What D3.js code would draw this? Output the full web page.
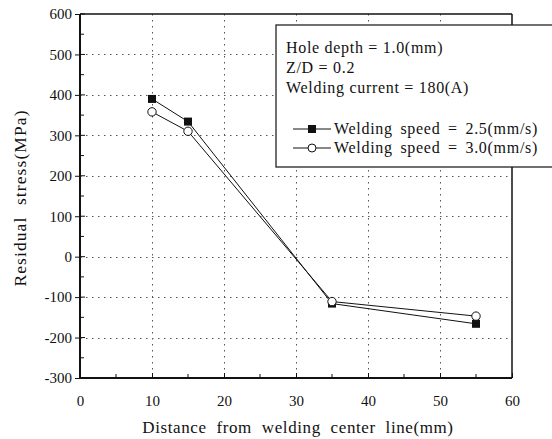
<!DOCTYPE html>
<html>
<head>
<meta charset="utf-8">
<script src="https://cdn.jsdelivr.net/npm/d3@7"></script>
<style>
  body { margin: 0; background: #fff; }
  text { font-family: "Liberation Serif", "DejaVu Serif", serif; fill: #111; }
</style>
</head>
<body>
<div id="chart"></div>
<script>
// datos
const distances = [10, 15, 35, 55];
const speed25 = [390, 334, -116, -166];
const speed30 = [358, 310, -111, -147];
const xTicks = [0, 10, 20, 30, 40, 50, 60];
const yTicks = [-300, -200, -100, 0, 100, 200, 300, 400, 500, 600];
const infoLines = ["Hole depth = 1.0(mm)", "Z/D = 0.2", "Welding current = 180(A)"];
const seriesNames = ["Welding speed = 2.5(mm/s)", "Welding speed = 3.0(mm/s)"];

const W = 552, H = 439;
const margin = { top: 14, right: 40, bottom: 61, left: 80 },
    width = W - margin.left - margin.right,
    height = H - margin.top - margin.bottom;

const svg = d3.select("#chart")
    .append("svg")
    .attr("width", W)
    .attr("height", H);

const g = svg.append("g")
    .attr("transform", `translate(${margin.left},${margin.top})`);

const x = d3.scaleLinear().domain([0, 60]).range([0, width]);
const y = d3.scaleLinear().domain([-300, 600]).range([height, 0]);

// rejilla punteada
g.selectAll(".hgrid")
    .data(yTicks.filter(d => d > -300 && d < 600))
    .enter().append("line")
    .attr("x1", 0).attr("x2", width)
    .attr("y1", d => Math.round(y(d)) + 0.5).attr("y2", d => Math.round(y(d)) + 0.5)
    .attr("stroke", "#555").attr("stroke-width", 1)
    .attr("stroke-dasharray", "1.5,4.5");

g.selectAll(".vgrid")
    .data(xTicks.filter(d => d > 0 && d < 60))
    .enter().append("line")
    .attr("x1", d => Math.round(x(d)) + 0.5).attr("x2", d => Math.round(x(d)) + 0.5)
    .attr("y1", 0).attr("y2", height)
    .attr("stroke", "#555").attr("stroke-width", 1)
    .attr("stroke-dasharray", "1.5,4.5");

// ejes
const yAxis = g.append("g")
    .call(d3.axisLeft(y).tickValues(yTicks).tickFormat(d => String(d)).tickSize(5).tickPadding(3));
const xAxis = g.append("g")
    .attr("transform", `translate(0,${height})`)
    .call(d3.axisBottom(x).tickValues(xTicks).tickFormat(d => String(d)).tickSize(-5).tickPadding(17));

[yAxis, xAxis].forEach(a => {
    a.select(".domain").remove();
    a.attr("font-family", null);
    a.selectAll("text")
        .style("font-family", "'Liberation Serif', serif")
        .style("font-size", "15px")
        .attr("fill", "#111");
    a.selectAll("line").attr("stroke", "#111");
});

// marcas menores hacia dentro
g.selectAll(".ymin")
    .data(d3.range(-250, 600, 100))
    .enter().append("line")
    .attr("x1", 0).attr("x2", 4)
    .attr("y1", d => y(d)).attr("y2", d => y(d))
    .attr("stroke", "#111");
g.selectAll(".ymaj")
    .data(yTicks)
    .enter().append("line")
    .attr("x1", 0).attr("x2", 5)
    .attr("y1", d => y(d)).attr("y2", d => y(d))
    .attr("stroke", "#111");
g.selectAll(".xmin")
    .data(d3.range(5, 60, 10))
    .enter().append("line")
    .attr("x1", d => x(d)).attr("x2", d => x(d))
    .attr("y1", height).attr("y2", height - 4)
    .attr("stroke", "#111");

// marco
g.append("line").attr("x1", 0).attr("x2", width).attr("y1", 0).attr("y2", 0)
    .attr("stroke", "#111").attr("stroke-width", 1.5);
g.append("line").attr("x1", width).attr("x2", width).attr("y1", 0).attr("y2", height)
    .attr("stroke", "#111").attr("stroke-width", 1.5);
g.append("line").attr("x1", 0).attr("x2", 0).attr("y1", 0).attr("y2", height)
    .attr("stroke", "#111").attr("stroke-width", 2);
g.append("line").attr("x1", 0).attr("x2", width).attr("y1", height).attr("y2", height)
    .attr("stroke", "#111").attr("stroke-width", 2);

// series
const line = d3.line().x(d => x(d[0])).y(d => y(d[1]));
const s1 = distances.map((d, i) => [d, speed25[i]]);
const s2 = distances.map((d, i) => [d, speed30[i]]);

g.append("path").datum(s1).attr("d", line)
    .attr("fill", "none").attr("stroke", "#111").attr("stroke-width", 1);
g.append("path").datum(s2).attr("d", line)
    .attr("fill", "none").attr("stroke", "#111").attr("stroke-width", 1);

g.selectAll(".sq").data(s1).enter().append("rect")
    .attr("x", d => x(d[0]) - 4).attr("y", d => y(d[1]) - 4)
    .attr("width", 8).attr("height", 8).attr("fill", "#111");
g.selectAll(".ci").data(s2).enter().append("circle")
    .attr("cx", d => x(d[0])).attr("cy", d => y(d[1])).attr("r", 4.2)
    .attr("fill", "#fff").attr("stroke", "#111").attr("stroke-width", 1);

// leyenda
const leg = svg.append("g").attr("transform", "translate(276,25)");
leg.append("rect").attr("x", 0).attr("y", 0).attr("width", 290).attr("height", 142)
    .attr("fill", "#fff").attr("stroke", "#111").attr("stroke-width", 1.2);
leg.selectAll(".info").data(infoLines).enter().append("text")
    .attr("x", 10).attr("y", (d, i) => 28 + i * 20)
    .style("font-size", "16px").style("letter-spacing", "0.7px").style("word-spacing", "0px")
    .text(d => d);

seriesNames.forEach((name, i) => {
    const yy = 104 + i * 19;
    leg.append("line").attr("x1", 17).attr("x2", 55).attr("y1", yy).attr("y2", yy)
        .attr("stroke", "#111");
    if (i === 0) {
        leg.append("rect").attr("x", 32).attr("y", yy - 4).attr("width", 8).attr("height", 8)
            .attr("fill", "#111");
    } else {
        leg.append("circle").attr("cx", 36).attr("cy", yy).attr("r", 4)
            .attr("fill", "#fff").attr("stroke", "#111");
    }
    leg.append("text").attr("x", 58).attr("y", yy + 5)
        .style("font-size", "16px").style("letter-spacing", "0.7px").style("word-spacing", "3px")
        .text(name);
});

// títulos de ejes
svg.append("text")
    .attr("transform", `translate(26,${margin.top + height / 2 + 2}) rotate(-90)`)
    .attr("text-anchor", "middle")
    .style("font-size", "17.5px").style("letter-spacing", "1.1px").style("word-spacing", "6px")
    .text("Residual stress(MPa)");
svg.append("text")
    .attr("x", margin.left + width / 2 + 2).attr("y", 433)
    .attr("text-anchor", "middle")
    .style("font-size", "17px").style("letter-spacing", "0.6px").style("word-spacing", "5px")
    .text("Distance from welding center line(mm)");
</script>
</body>
</html>
